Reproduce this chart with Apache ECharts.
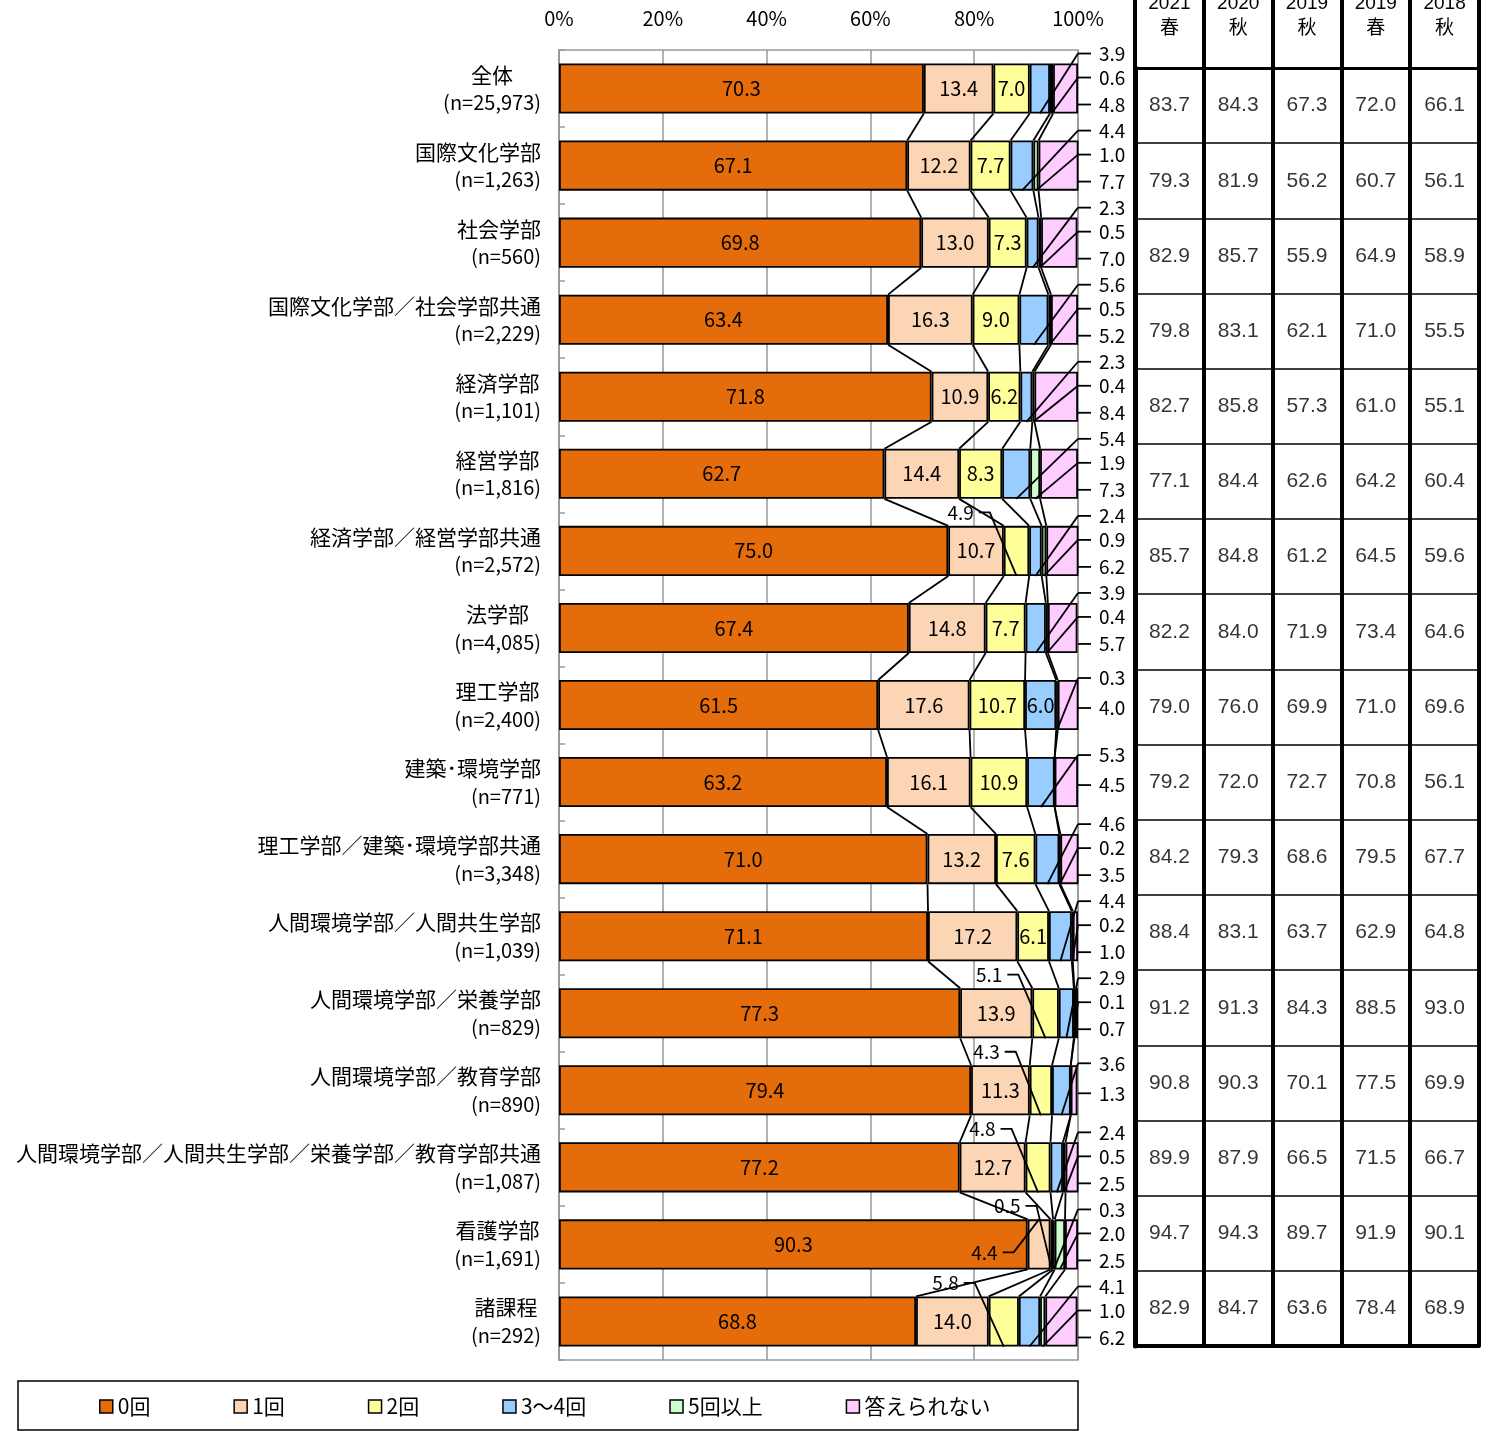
<!DOCTYPE html>
<html><head><meta charset="utf-8">
<script src="https://cdn.jsdelivr.net/npm/echarts@6/dist/echarts.min.js"></script>
<style>html,body{margin:0;padding:0;background:#fff}#main{width:1489px;height:1431px}</style>
</head><body><div id="main"></div>
<script>
// ---------- data ----------
const categories = ['全体','国際文化学部','社会学部','国際文化学部／社会学部共通','経済学部','経営学部','経済学部／経営学部共通','法学部','理工学部','建築･環境学部','理工学部／建築･環境学部共通','人間環境学部／人間共生学部','人間環境学部／栄養学部','人間環境学部／教育学部','人間環境学部／人間共生学部／栄養学部／教育学部共通','看護学部','諸課程'];
const sampleSizes = ['25,973','1,263','560','2,229','1,101','1,816','2,572','4,085','2,400','771','3,348','1,039','829','890','1,087','1,691','292'];
const seriesNames = ['0回','1回','2回','3～4回','5回以上','答えられない'];
const zeroTimes  = [70.3,67.1,69.8,63.4,71.8,62.7,75.0,67.4,61.5,63.2,71.0,71.1,77.3,79.4,77.2,90.3,68.8];
const oneTime    = [13.4,12.2,13.0,16.3,10.9,14.4,10.7,14.8,17.6,16.1,13.2,17.2,13.9,11.3,12.7,4.4,14.0];
const twoTimes   = [7.0,7.7,7.3,9.0,6.2,8.3,4.9,7.7,10.7,10.9,7.6,6.1,5.1,4.3,4.8,0.5,5.8];
const threeFour  = [3.9,4.4,2.3,5.6,2.3,5.4,2.4,3.9,6.0,5.3,4.6,4.4,2.9,3.6,2.4,0.3,4.1];
const fivePlus   = [0.6,1.0,0.5,0.5,0.4,1.9,0.9,0.4,0.3,0.0,0.2,0.2,0.1,0.0,0.5,2.0,1.0];
const unanswered = [4.8,7.7,7.0,5.2,8.4,7.3,6.2,5.7,4.0,4.5,3.5,1.0,0.7,1.3,2.5,2.5,6.2];

const xTicks = [0,20,40,60,80,100];
const tableHeaders = ['2021\n春','2020\n秋','2019\n秋','2019\n春','2018\n秋'];
const table2021Spring = [83.7,79.3,82.9,79.8,82.7,77.1,85.7,82.2,79.0,79.2,84.2,88.4,91.2,90.8,89.9,94.7,82.9];
const table2020Autumn = [84.3,81.9,85.7,83.1,85.8,84.4,84.8,84.0,76.0,72.0,79.3,83.1,91.3,90.3,87.9,94.3,84.7];
const table2019Autumn = [67.3,56.2,55.9,62.1,57.3,62.6,61.2,71.9,69.9,72.7,68.6,63.7,84.3,70.1,66.5,89.7,63.6];
const table2019Spring = [72.0,60.7,64.9,71.0,61.0,64.2,64.5,73.4,71.0,70.8,79.5,62.9,88.5,77.5,71.5,91.9,78.4];
const table2018Autumn = [66.1,56.1,58.9,55.5,55.1,60.4,59.6,64.6,69.6,56.1,67.7,64.8,93.0,69.9,66.7,90.1,68.9];

// ---------- build ----------
const JP = '"Noto Sans CJK JP", "Noto Sans", sans-serif';
const AR = '"Liberation Sans", "Noto Sans CJK JP", sans-serif';
const colors = ['#E46C0A','#FCD5B5','#FFFF99','#99CCFF','#CCFFCC','#FFCCFF'];
const valueSeries = [zeroTimes, oneTime, twoTimes, threeFour, fivePlus, unanswered];
const tableCols = [table2021Spring, table2020Autumn, table2019Autumn, table2019Spring, table2018Autumn];
const BAR_RATIO = 0.65;
const INSIDE_MIN = 6;
const LW = 1.8;
const cum = categories.map((c, i) => { let s = 0; return valueSeries.map(arr => (s += arr[i])); });

function ln(x1, y1, x2, y2) { return {type:'line', shape:{x1, y1, x2, y2}, style:{stroke:'#000', lineWidth:LW}}; }
function pl(points) { return {type:'polyline', shape:{points}, style:{stroke:'#000', fill:null, lineWidth:LW}}; }
function tx(t, x, y, align) {
  return {type:'text', x, y, style:{text:t, fill:'#000', fontSize:19, fontFamily:JP,
    align, textAlign:align, verticalAlign:'middle', textVerticalAlign:'middle'}};
}

const barSeries = seriesNames.map((name, k) => ({
  name, type:'bar', stack:'total', xAxisIndex:0, yAxisIndex:0, barWidth:'65%',
  data: valueSeries[k], silent:true,
  itemStyle:{color:colors[k], borderColor:'#000', borderWidth:LW},
  label:{show:k < 4, position:'inside', color:'#000', fontSize:20, fontFamily:JP,
    formatter: p => (p.value >= INSIDE_MIN ? p.value.toFixed(1) : '')},
  emphasis:{disabled:true}
}));

const connectorSeries = {
  type:'custom', xAxisIndex:0, yAxisIndex:0, z:5, silent:true,
  data: categories.slice(0, -1).map((c, i) => [0, i]),
  encode:{x:0, y:1},
  renderItem(params, api) {
    const i = params.dataIndex;
    const h = api.size([0, 1])[1] * BAR_RATIO / 2;
    const children = [];
    for (let k = 0; k < 5; k++) {
      const a = api.coord([cum[i][k], i]);
      const b = api.coord([cum[i + 1][k], i + 1]);
      children.push(ln(a[0], a[1] + h, b[0], b[1] - h));
    }
    return {type:'group', children};
  }
};

const annotationSeries = {
  type:'custom', xAxisIndex:0, yAxisIndex:0, z:6, silent:true,
  data: categories.map((c, i) => [0, i]),
  encode:{x:0, y:1},
  renderItem(params, api) {
    const i = params.dataIndex;
    const band = api.size([0, 1])[1];
    const h = band * BAR_RATIO / 2;
    const cy = api.coord([0, i])[1];
    const top = cy - h, bottom = cy + h;
    const R = api.coord([100, i])[0];
    const segLeft = k => api.coord([k ? cum[i][k - 1] : 0, i])[0];
    const segMid = k => (segLeft(k) + api.coord([cum[i][k], i])[0]) / 2;
    const kids = [];
    const right = [];
    for (let k = 3; k < 6; k++) {
      const v = valueSeries[k][i];
      if (v <= 0) continue;
      if (k === 3 && v >= INSIDE_MIN) continue;
      right.push(k);
    }
    const offs = ({1:[0], 2:[-27, 3], 3:[-35, -11, 16]})[right.length] || [];
    right.forEach((k, j) => {
      const y = cy + offs[j];
      kids.push(ln(R, y, R + 13, y));
      kids.push(tx(valueSeries[k][i].toFixed(1), R + 21, y, 'left'));
      if (!(k === 5 && y >= top && y <= bottom)) kids.push(ln(R, y, segMid(k), bottom));
    });
    for (let k = 1; k < 3; k++) {
      const v = valueSeries[k][i];
      if (v <= 0 || v >= INSIDE_MIN) continue;
      const x0 = segLeft(k) - 30;
      if (k === 1) {
        const y = cy + 8;
        kids.push(tx(v.toFixed(1), x0, y, 'right'));
        kids.push(pl([[x0 + 5, y], [x0 + 16, y], [segMid(k), top]]));
      } else {
        const y = cy - band / 2;
        kids.push(tx(v.toFixed(1), x0, y, 'right'));
        kids.push(pl([[x0 + 5, y], [x0 + 16, y], [segMid(k), bottom]]));
      }
    }
    return {type:'group', children:kids};
  }
};

const tableData = [];
tableCols.forEach((col, c) => col.forEach((v, r) => tableData.push([c, r, v])));
const tableSeries = {
  type:'scatter', xAxisIndex:1, yAxisIndex:1, silent:true,
  symbol:'rect', symbolSize:1, itemStyle:{color:'rgba(0,0,0,0)'},
  data: tableData,
  label:{show:true, position:'inside', color:'#000', fontSize:21, fontFamily:AR,
    formatter: p => p.value[2].toFixed(1)}
};

const option = {
  animation:false,
  backgroundColor:'#fff',
  grid:[
    {left:559, right:411, top:50, bottom:71, show:true, borderColor:'#999', borderWidth:1.5, outerBoundsMode:'none', containLabel:false},
    {left:1135, right:10, top:68, bottom:85, outerBoundsMode:'none', containLabel:false}
  ],
  legend:{
    data:seriesNames, left:94, top:1391, icon:'rect', itemWidth:13, itemHeight:13, itemGap:83,
    itemStyle:{borderColor:'#000', borderWidth:1.5},
    textStyle:{fontSize:21, fontFamily:JP, color:'#000'}, selectedMode:false
  },
  xAxis:[
    {type:'value', gridIndex:0, position:'top', min:xTicks[0], max:xTicks[xTicks.length-1], interval:xTicks[1]-xTicks[0],
      axisLabel:{formatter:'{value}%', fontSize:20, fontFamily:JP, color:'#000', margin:22},
      axisLine:{show:false}, axisTick:{show:false},
      splitLine:{show:true, lineStyle:{color:'#999', width:1.5}}},
    {type:'category', gridIndex:1, position:'top', data:tableHeaders,
      axisLabel:{interval:0, fontSize:19, fontFamily:AR, color:'#000', lineHeight:25, margin:27},
      axisLine:{show:true, lineStyle:{color:'#000', width:3}},
      axisTick:{show:true, interval:0, length:68, lineStyle:{color:'#000', width:4}},
      splitLine:{show:true, interval:0, lineStyle:{color:'#000', width:4}}},
    {type:'category', gridIndex:1, position:'bottom', data:tableHeaders,
      axisLabel:{show:false}, axisTick:{show:false},
      axisLine:{show:true, lineStyle:{color:'#000', width:4}}}
  ],
  yAxis:[
    {type:'category', gridIndex:0, data:categories, inverse:true,
      axisLine:{show:true, lineStyle:{color:'#999', width:1.5}},
      axisTick:{show:true, inside:true, length:6, lineStyle:{color:'#999', width:1.5}},
      axisLabel:{interval:0, margin:18, color:'#000',
        formatter:(v, idx) => `{a|${v}}\n{b|(n=${sampleSizes[idx]})}`,
        rich:{a:{align:'center', fontSize:21, fontFamily:JP, lineHeight:28, color:'#000'},
              b:{align:'right', fontSize:20, fontFamily:JP, lineHeight:28, color:'#000'}}}},
    {type:'category', gridIndex:1, data:categories, inverse:true,
      axisLabel:{show:false}, axisTick:{show:false},
      axisLine:{show:true, lineStyle:{color:'#000', width:5}},
      splitLine:{show:true, interval:0, lineStyle:{color:'#000', width:1.5}}}
  ],
  graphic:[
    {type:'rect', shape:{x:18, y:1381, width:1060, height:49}, style:{fill:null, stroke:'#000', lineWidth:1.5}, silent:true, z:-1}
  ],
  series:[...barSeries, connectorSeries, annotationSeries, tableSeries]
};
const chart = echarts.init(document.getElementById('main'));
chart.setOption(option);
</script>
</body></html>
